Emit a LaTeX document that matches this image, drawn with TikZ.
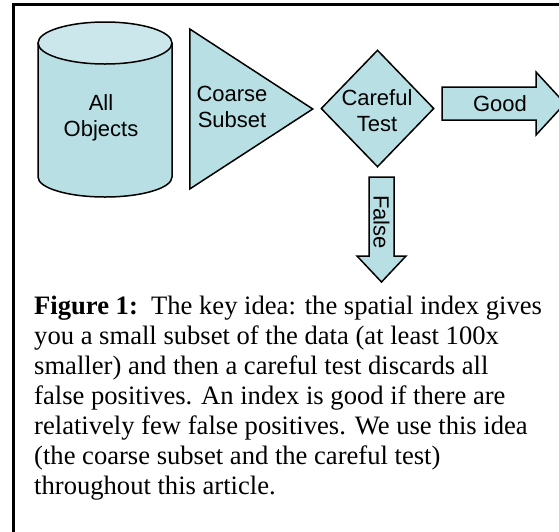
\documentclass[tikz,border=0pt]{standalone}
\usepackage{fontspec}
\setmainfont{Liberation Serif}
\setsansfont{Liberation Sans}
\usepackage{tikz}
\usetikzlibrary{shapes.geometric}
\definecolor{stagefill}{RGB}{184,223,227}
\definecolor{stagetop}{RGB}{203,231,235}
\tikzstyle{stage} = [draw=black, line width=1.5pt, fill=stagefill, inner sep=0pt]
\tikzstyle{stagetext} = [align=center, inner sep=0pt,
font=\sffamily\fontsize{22}{26}\selectfont]

\begin{document}
\begin{tikzpicture}[x=1pt, y=-1pt]
            \useasboundingbox (0,0) rectangle (559,531);
            \clip (0,0) rectangle (559,531);
            % Frame
            \draw[line width=2.5pt] (13.5,560) -- (13.5,4.5) -- (580,4.5);
            % Stages
            \draw[stage] (38,43) -- (38,177) arc[start angle=180, end angle=0,
            x radius=67, y radius=20] -- (172,43);
            \draw[stage, fill=stagetop] (105,43) ellipse[x radius=67, y radius=21];
            \coordinate (objects) at (105,110);
            \node[stage, isosceles triangle, isosceles triangle stretches,
            minimum width=160pt, minimum height=123pt, anchor=lower side] (subset) at (189,109) {};
            \node[stage, diamond, minimum width=113pt, minimum height=117pt] (test) at (377.5,108.5) {};
            % Arrows
            \draw[stage] (442,87) -- (536,87) -- (536,72) -- (565,103.5) -- (536,135)
            -- (536,120) -- (442,120) -- cycle;
            \draw[stage] (369,177) -- (394,177) -- (394,256) -- (406,256) -- (381.5,282)
            -- (357,256) -- (369,256) -- cycle;
            % Labels
            \node[stagetext] (objectstext) at (101,118) {All\\Objects};
            \node[stagetext] (subsettext) at (232,107) {Coarse\\Subset};
            \node[stagetext] (testtext) at (377,111) {Careful\\Test};
            \node[stagetext] (goodtext) at (500,104) {Good};
            \node[stagetext, rotate=-90] (falsetext) at (381.5,222) {False};
            % Caption
            \node[anchor=base west, inner sep=0pt, align=left,
            font=\fontsize{26.6}{30}\selectfont] (caption) at (34,494)
            {\textbf{Figure 1:}\ \ The key idea: the spatial index gives\\
            you a small subset of the data (at least 100x\\
            smaller) and then a careful test discards all\\
            false positives. An index is good if there are\\
            relatively few false positives. We use this idea\\
            (the coarse subset and the careful test)\\
            throughout this article.};
        \end{tikzpicture}
\end{document}
